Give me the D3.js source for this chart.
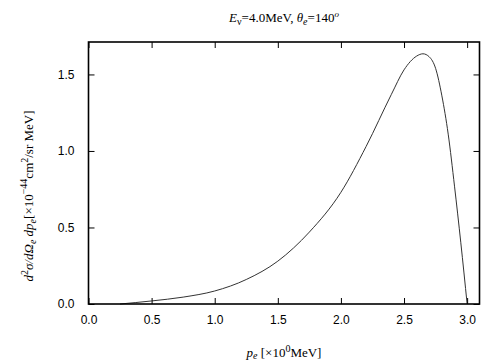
<!DOCTYPE html>
<html>
<head>
<meta charset="utf-8">
<script src="https://cdn.jsdelivr.net/npm/d3@7"></script>
<style>
  body { margin: 0; background: #fff; }
  .tick-label { font-family: "Liberation Sans", Arial, sans-serif; font-size: 12px; }
  .serif { font-family: "Liberation Serif", "Times New Roman", serif; font-size: 13px; }
</style>
</head>
<body>
<svg id="graphic-container" width="504" height="360"></svg>
<script>
const momentum = [0.25, 0.5, 0.75, 1.0, 1.25, 1.5, 1.75, 2.0, 2.2, 2.4, 2.5, 2.6, 2.65, 2.7, 2.75, 2.8, 2.85, 2.9, 2.95, 3.0];
const crossSection = [0, 0.02, 0.045, 0.085, 0.16, 0.28, 0.47, 0.73, 1.03, 1.37, 1.53, 1.62, 1.635, 1.615, 1.54, 1.36, 1.11, 0.77, 0.40, 0.0];
const xTicks = [0, 0.5, 1.0, 1.5, 2.0, 2.5, 3.0];
const yTicks = [0, 0.5, 1.0, 1.5];

const $svg = d3.select("#graphic-container");
const frame = { left: 88.5, right: 479.5, top: 42, bottom: 304 };
const tickLen = 6;

const x = d3.scaleLinear().domain([0, 3.098]).range([frame.left, frame.right]);
const y = d3.scaleLinear().domain([0, 1.712]).range([frame.bottom, frame.top]);

// curve
const line = d3.line()
  .x((d, i) => x(momentum[i]))
  .y(d => y(d))
  .curve(d3.curveMonotoneX);
$svg.append("path")
  .datum(crossSection)
  .attr("d", line)
  .attr("fill", "none")
  .attr("stroke", "#333")
  .attr("stroke-width", 1);

// axes (ticks inward, mirrored)
const bottomAxis = d3.axisBottom(x).tickValues(xTicks).tickSize(-tickLen).tickPadding(11).tickFormat(d3.format(".1f"));
const topAxis = d3.axisTop(x).tickValues(xTicks).tickSize(-tickLen).tickFormat("");
const leftAxis = d3.axisLeft(y).tickValues(yTicks).tickSize(-tickLen).tickPadding(14).tickFormat(d3.format(".1f"));
const rightAxis = d3.axisRight(y).tickValues(yTicks).tickSize(-tickLen).tickFormat("");

function styleAxis(g) {
  g.select(".domain").remove();
  g.selectAll(".tick line").attr("stroke", "#000").attr("stroke-width", 1);
  g.selectAll(".tick text").attr("class", "tick-label").attr("fill", "#000");
  g.attr("font-size", null).attr("font-family", null);
}

$svg.append("g").attr("transform", `translate(0,${frame.bottom})`).call(bottomAxis).call(styleAxis);
$svg.append("g").attr("transform", `translate(0,${frame.top})`).call(topAxis).call(styleAxis);
$svg.append("g").attr("transform", `translate(${frame.left},0)`).call(leftAxis).call(styleAxis);
$svg.append("g").attr("transform", `translate(${frame.right},0)`).call(rightAxis).call(styleAxis);

// frame
$svg.append("rect")
  .attr("x", frame.left)
  .attr("y", frame.top)
  .attr("width", frame.right - frame.left)
  .attr("height", frame.bottom - frame.top)
  .attr("fill", "none")
  .attr("stroke", "#000")
  .attr("stroke-width", 1.6);

// title
const title = $svg.append("text").attr("class", "serif")
  .attr("x", (frame.left + frame.right) / 2).attr("y", 22).attr("text-anchor", "middle");
title.append("tspan").attr("font-style", "italic").text("E");
title.append("tspan").attr("font-size", 10).attr("dy", 3).text("ν");
title.append("tspan").attr("dy", -3).text("=4.0MeV, ");
title.append("tspan").attr("font-style", "italic").text("θ");
title.append("tspan").attr("font-style", "italic").attr("font-size", 10).attr("dy", 3).text("e");
title.append("tspan").attr("dy", -3).text("=140");
title.append("tspan").attr("font-style", "italic").attr("font-size", 9).attr("dy", -5).text("o");

// x label
const xLabel = $svg.append("text").attr("class", "serif")
  .attr("x", (frame.left + frame.right) / 2).attr("y", 356.5).attr("text-anchor", "middle");
xLabel.append("tspan").attr("font-style", "italic").text("p");
xLabel.append("tspan").attr("font-style", "italic").attr("font-size", 10).attr("dy", 2).text("e");
xLabel.append("tspan").attr("dy", -2).text(" [×10");
xLabel.append("tspan").attr("font-size", 10).attr("dy", -5).text("0");
xLabel.append("tspan").attr("dy", 5).text("MeV]");

// y label
const yLabel = $svg.append("text").attr("class", "serif")
  .attr("transform", "translate(33,196) rotate(-90)").attr("text-anchor", "middle");
yLabel.append("tspan").attr("font-style", "italic").text("d");
yLabel.append("tspan").attr("font-size", 10).attr("dy", -5).text("2");
yLabel.append("tspan").attr("font-style", "italic").attr("dy", 5).text("σ/dΩ");
yLabel.append("tspan").attr("font-style", "italic").attr("font-size", 10).attr("dy", 3).text("e");
yLabel.append("tspan").attr("font-style", "italic").attr("dy", -3).text(" dp");
yLabel.append("tspan").attr("font-style", "italic").attr("font-size", 10).attr("dy", 3).text("e");
yLabel.append("tspan").attr("dy", -3).text("[×10");
yLabel.append("tspan").attr("font-size", 10).attr("dy", -6).text("−44");
yLabel.append("tspan").attr("dy", 6).text("cm");
yLabel.append("tspan").attr("font-size", 10).attr("dy", -5).text("2");
yLabel.append("tspan").attr("dy", 5).text("/sr MeV]");
</script>
</body>
</html>
